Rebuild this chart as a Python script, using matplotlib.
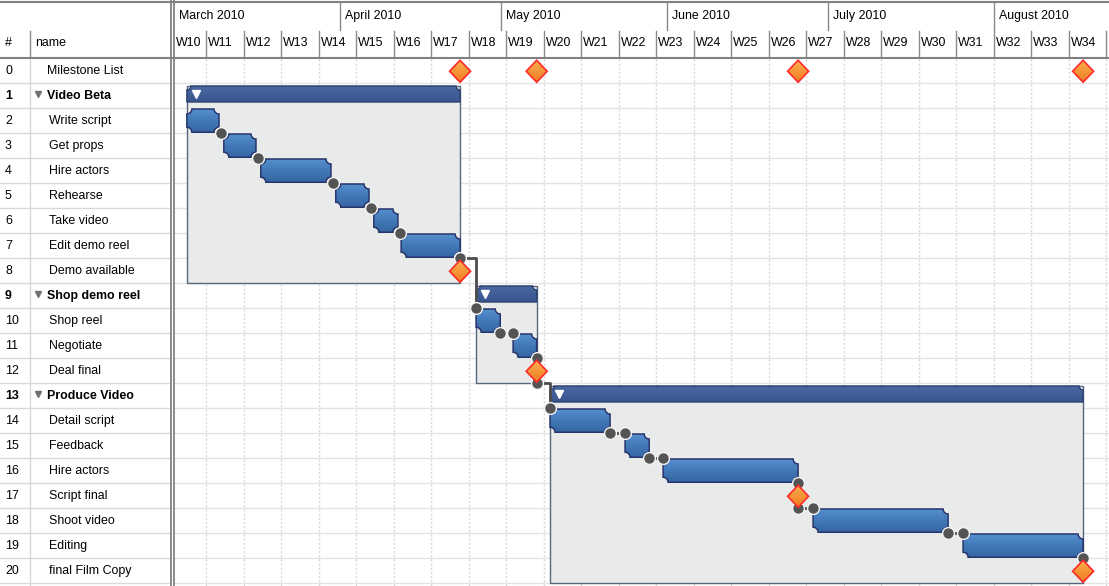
import numpy as np
import pandas as pd
import matplotlib
matplotlib.use("Agg")
import matplotlib.pyplot as plt
from matplotlib.patches import Polygon, Rectangle
from matplotlib.colors import LinearSegmentedColormap

plt.rcParams["font.family"] = ["Liberation Sans", "DejaVu Sans"]

# ----------------------------------------------------------------------
# Data
# ----------------------------------------------------------------------
BASE = pd.Timestamp("2010-03-01")

month_labels = ["March 2010", "April 2010", "May 2010", "June 2010", "July 2010", "August 2010"]
month_starts = ["2010-03-01", "2010-04-01", "2010-05-01", "2010-06-01", "2010-07-01", "2010-08-01"]
week_labels = ["W%d" % n for n in range(10, 35)]
week_starts = pd.date_range("2010-02-28", periods=len(week_labels), freq="7D")

names = ["Milestone List", "Video Beta", "Write script", "Get props", "Hire actors",
         "Rehearse", "Take video", "Edit demo reel", "Demo available", "Shop demo reel",
         "Shop reel", "Negotiate", "Deal final", "Produce Video", "Detail script",
         "Feedback", "Hire actors", "Script final", "Shoot video", "Editing",
         "final Film Copy"]
kinds = ["list", "group", "task", "task", "task", "task", "task", "task", "milestone",
         "group", "task", "task", "milestone", "group", "task", "task", "task",
         "milestone", "task", "task", "milestone"]
# days after 1 March 2010
starts = [np.nan, 2.4, 2.4, 9.3, 16.2, 30.2, 37.3, 42.4, 53.4, 56.4, 56.4, 63.3, 67.7,
          70.2, 70.2, 84.2, 91.3, 116.5, 119.3, 147.3, 169.7]
ends = [np.nan, 53.4, 8.4, 15.3, 29.3, 36.4, 41.8, 53.4, 53.4, 67.7, 60.9, 67.7, 67.7,
        169.7, 81.4, 88.7, 116.5, 116.5, 144.5, 169.7, 169.7]
group_last = {1: 8, 9: 12, 13: 20}
deps = [(2, 3), (3, 4), (4, 5), (5, 6), (6, 7), (7, 8), (7, 10), (10, 11), (11, 12),
        (12, 14), (14, 15), (15, 16), (16, 17), (17, 18), (18, 19), (19, 20)]

# ----------------------------------------------------------------------
# Layout
# ----------------------------------------------------------------------
W, H = 1109, 586
ROW_PX = 25
PX_DAY = 37.5 / 7
HEAD = 58
SPLIT = 171
CHART_X = 174
Y_BOTTOM = -0.5 + (H - HEAD) / ROW_PX
X_RIGHT = (W - CHART_X) / PX_DAY
FS = 8.9

fig = plt.figure(figsize=(W / 100, H / 100), dpi=100)


def px_axes(x0, y0, x1, y1):
    a = fig.add_axes([x0 / W, 1 - y1 / H, (x1 - x0) / W, (y1 - y0) / H])
    a.set_axis_off()
    return a


ax_thead = px_axes(0, 0, SPLIT, HEAD)
ax_tab = px_axes(0, HEAD, SPLIT, H)
ax_head = px_axes(CHART_X, 0, W, HEAD)
ax = px_axes(CHART_X, HEAD, W, H)

for a in (ax_thead, ax_head):
    a.set_ylim(HEAD, 0)
ax_thead.set_xlim(0, SPLIT)
ax_head.set_xlim(0, X_RIGHT)
ax_tab.set_xlim(0, SPLIT)
ax_tab.set_ylim(Y_BOTTOM, -0.5)


def day(s):
    return (pd.Timestamp(s) - BASE) / pd.Timedelta(days=1)


month_x = [day(m) for m in month_starts]
week_x = [max(day(w), 0) for w in week_starts]
week_end = day(week_starts[-1]) + 7

# ----------------------------------------------------------------------
# Header
# ----------------------------------------------------------------------
ax_thead.text(5, 43, "#", fontsize=FS, va="center", ha="left")
ax_thead.text(35, 43, "name", fontsize=FS, va="center", ha="left")
ax_thead.plot([30, 30], [31, HEAD], color="#8a8a8a", lw=1)

for x, lab in zip(month_x, month_labels):
    if x > 0:
        ax_head.plot([x, x], [3, 30], color="#8a8a8a", lw=1)
    ax_head.text(x + 5 / PX_DAY, 16, lab, fontsize=FS, va="center", ha="left")
for x, lab in zip(week_x, week_labels):
    if x > 0:
        ax_head.plot([x, x], [31, HEAD], color="#8a8a8a", lw=1)
    ax_head.text(x + 2 / PX_DAY, 43, lab, fontsize=FS, va="center", ha="left")
ax_head.plot([week_end, week_end], [31, HEAD], color="#8a8a8a", lw=1)

# ----------------------------------------------------------------------
# Table
# ----------------------------------------------------------------------
n_rows = len(names)
for r in range(n_rows):
    ax_tab.axhline(r + 0.5, color="#d9d9d9", lw=1)
ax_tab.axvline(30, color="#d9d9d9", lw=1)
for r, (nm, kd) in enumerate(zip(names, kinds)):
    bold = "bold" if kd == "group" else "normal"
    ax_tab.text(5, r + 0.02, str(r), fontsize=FS, va="center", ha="left", fontweight=bold)
    if kd == "group":
        ax_tab.plot(38, r - 0.08, marker="v", ms=5, color="#707070", mec="#707070")
        ax_tab.text(47, r + 0.02, nm, fontsize=FS, va="center", ha="left", fontweight="bold")
    elif kd == "list":
        ax_tab.text(47, r + 0.02, nm, fontsize=FS, va="center", ha="left")
    else:
        ax_tab.text(49, r + 0.02, nm, fontsize=FS, va="center", ha="left")

# ----------------------------------------------------------------------
# Chart grid
# ----------------------------------------------------------------------
for r in range(n_rows):
    ax.axhline(r + 0.5, color="#e3e3e3", lw=1, zorder=0)
for x in week_x[1:] + [week_end]:
    ax.axvline(x, color="#d8d8d8", lw=1, ls=(0, (1.5, 1.5)), zorder=0)

bar_cm = LinearSegmentedColormap.from_list("bar", ["#5892d0", "#4379b8", "#3666a3"])
grp_cm = LinearSegmentedColormap.from_list("grp", ["#4a68a2", "#3a558f"])
ms_cm = LinearSegmentedColormap.from_list("ms", ["#fbb050", "#f07c22"])
grad = np.linspace(0, 1, 64).reshape(-1, 1)


def notched(x0, x1, y0, y1, rx, ry, bottom=True, n=8):
    t = np.linspace(0, np.pi / 2, n)
    pts = [(x0 + rx * np.sin(a), y0 + ry * np.cos(a)) for a in t]
    pts += [(x1 - rx * np.cos(a), y0 + ry * np.sin(a)) for a in t]
    if bottom:
        pts += [(x1 - rx * np.sin(a), y1 - ry * np.cos(a)) for a in t]
        pts += [(x0 + rx * np.cos(a), y1 - ry * np.sin(a)) for a in t]
    else:
        pts += [(x1, y1), (x0, y1)]
    return pts


def gradient_patch(pts, cmap, ec, lw, z, ext):
    poly = Polygon(pts, closed=True, facecolor="none", edgecolor=ec, lw=lw, zorder=z + 0.1)
    ax.add_patch(poly)
    im = ax.imshow(grad, cmap=cmap, extent=ext, aspect="auto", origin="upper",
                   zorder=z, interpolation="bilinear")
    clip = Polygon(pts, closed=True, transform=ax.transData)
    im.set_clip_path(clip)


RX = 5 / PX_DAY
RY = 5 / ROW_PX

# groups: box + header bar
for g, last in group_last.items():
    x0, x1 = starts[g], ends[g]
    top, bar_bot = g - 0.38, g + 0.26
    ax.add_patch(Rectangle((x0, top), x1 - x0, last + 0.5 - top, facecolor="#e9eaea",
                           edgecolor="#55687d", lw=1, zorder=1))
    pts = notched(x0, x1, top, bar_bot, RX * 0.8, RY * 0.8, bottom=False)
    gradient_patch(pts, grp_cm, "#2d4170", 1, 2, (x0, x1, bar_bot, top))
    ax.plot(x0 + 9 / PX_DAY, g - 0.08, marker="v", ms=5.5, color="white", mec="white", zorder=3)

# tasks
for r, kd in enumerate(kinds):
    if kd != "task":
        continue
    x0, x1 = starts[r], ends[r]
    y0, y1 = r - 0.46, r + 0.47
    pts = notched(x0, x1, y0, y1, RX, RY)
    gradient_patch(pts, bar_cm, "#27346b", 1.1, 3, (x0, x1, y1, y0))

# dependencies
for a, b in deps:
    xa, ya = ends[a], a + 0.5
    xb, yb = starts[b], b - 0.5
    if abs(xb - xa) * PX_DAY < 8 and ya == yb:
        dots_x, dots_y = [(xa + xb) / 2], [ya]
    else:
        ax.plot([xa, xb, xb], [ya, ya, yb], color="#4d4d4d", lw=2, zorder=4,
                solid_capstyle="butt")
        dots_x, dots_y = [xa, xb], [ya, yb]
    ax.plot(dots_x, dots_y, ls="none", marker="o", ms=8.5, color="#545454",
            mec="#f4f4f4", mew=1, zorder=5)


# milestones
def diamond(x, y):
    hw, hh = 10.5 / PX_DAY, 0.44
    pts = [(x, y - hh), (x + hw, y), (x, y + hh), (x - hw, y)]
    gradient_patch(pts, ms_cm, "#ff2a2a", 1.2, 6, (x - hw, x + hw, y + hh, y - hh))


for r, kd in enumerate(kinds):
    if kd == "milestone":
        diamond(starts[r], r + 0.03)
        diamond(starts[r], 0.03)

ax.set_xlim(0, X_RIGHT)
ax.set_ylim(Y_BOTTOM, -0.5)

# ----------------------------------------------------------------------
# Frame lines
# ----------------------------------------------------------------------
ax_frame = px_axes(0, 0, W, H)
ax_frame.set_xlim(0, W)
ax_frame.set_ylim(H, 0)
ax_frame.patch.set_alpha(0)
ax_frame.plot([0, W], [2, 2], color="#808080", lw=1.5)
ax_frame.plot([0, W], [HEAD, HEAD], color="#808080", lw=1.5)
ax_frame.plot([SPLIT, SPLIT], [0, H], color="#808080", lw=1.3)
ax_frame.plot([CHART_X - 0.5, CHART_X - 0.5], [0, H], color="#808080", lw=1.3)

fig.savefig("out.png", dpi=100)
